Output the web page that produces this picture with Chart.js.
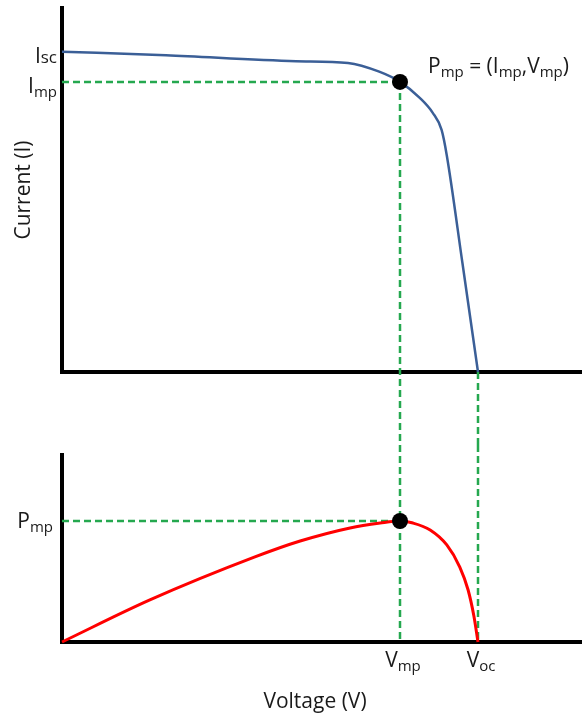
<!DOCTYPE html>
<html>
<head>
<meta charset="utf-8">
<script src="https://cdn.jsdelivr.net/npm/chart.js@4/dist/chart.umd.min.js"></script>
<style>
  body { margin: 0; background: #fff; }
  #wrap { position: relative; width: 582px; height: 719px; }
  canvas { position: absolute; left: 0; }
  #ivChart { top: 0; }
  #pvChart { top: 445px; }
</style>
</head>
<body>
<div id="wrap">
  <canvas id="ivChart" width="582" height="445"></canvas>
  <canvas id="pvChart" width="582" height="274"></canvas>
</div>
<script>
// axis ranges (relative units)
var vMax = 100;
var iMax = 100;
var pMax = 100;

// I-V curve
var ivVoltage = [0, 20, 45, 55, 61, 65, 68.8, 71.3, 73, 74, 77, 80];
var ivCurrent = [88, 87, 85.4, 84.9, 82.5, 79.7, 75.3, 71.2, 66.5, 59.5, 30, 0];

// P-V curve
var pvVoltage = [0, 16.9, 37.1, 45.8, 55.4, 61.2, 65, 67.5, 70.8, 74, 76.5, 78.1, 79.2, 80];
var pvPower = [0, 22.5, 45.5, 54, 61, 63.6, 64.7, 63.6, 59.9, 51.9, 40.1, 27.8, 14, 0];

// characteristic points
var vmp = 65, voc = 80;
var isc = 88, imp = 79.7;
var pmp = 64.7;

// tick labels (main letter + subscript)
var ivTickValues = [isc, imp];
var ivTickMain = ['I', 'I'];
var ivTickSub = ['sc', 'mp'];
var pvTickValues = [pmp];
var pvTickMain = ['P'];
var pvTickSub = ['mp'];
var xTickValues = [vmp, voc];
var xTickMain = ['V', 'V'];
var xTickSub = ['mp', 'oc'];

var FONT = '"Open Sans", Lato, sans-serif';
var TEXT = '#1a1a1a';
var GREEN = '#25a84f';
var BLUE = '#3b5f97';
var RED = '#ff0000';

function toXY(xs, ys) {
  return xs.map(function (x, i) { return {x: x, y: ys[i]}; });
}

// draw text segments, sub segments smaller and lowered
function drawRich(ctx, x, y, segs, align) {
  var total = 0;
  segs.forEach(function (s) {
    ctx.font = (s.size || 21) + 'px ' + FONT;
    s.w = ctx.measureText(s.t).width;
    total += s.w;
  });
  var cx = x;
  if (align == 'right') cx = x - total;
  if (align == 'center') cx = x - total / 2;
  ctx.textAlign = 'left';
  ctx.textBaseline = 'alphabetic';
  ctx.fillStyle = TEXT;
  segs.forEach(function (s) {
    ctx.font = (s.size || 21) + 'px ' + FONT;
    ctx.fillText(s.t, cx, y + (s.dy || 0));
    cx += s.w;
  });
}

function label(main, sub) {
  if (sub == 'sc') return [{t: main}, {t: sub, size: 17, dy: 0}];
  return [{t: main}, {t: sub, size: 15, dy: 4}];
}

function dashedV(ctx, x, y1, y2) {
  ctx.save();
  ctx.strokeStyle = GREEN;
  ctx.lineWidth = 2.5;
  ctx.setLineDash([7, 4]);
  ctx.beginPath();
  ctx.moveTo(x, y1);
  ctx.lineTo(x, y2);
  ctx.stroke();
  ctx.restore();
}

function axisOpts(max) {
  return {
    type: 'linear', min: 0, max: max,
    grid: {display: false, drawTicks: false},
    ticks: {display: false},
    border: {display: true, color: '#000', width: 4}
  };
}

var ivPlugin = {
  id: 'ivDecor',
  beforeDatasetsDraw: function (chart) {
    var ctx = chart.ctx, xs = chart.scales.x, ys = chart.scales.y;
    dashedV(ctx, xs.getPixelForValue(vmp), ys.getPixelForValue(imp), chart.height);
    dashedV(ctx, xs.getPixelForValue(voc), ys.getPixelForValue(0), chart.height);
  },
  afterDraw: function (chart) {
    var ctx = chart.ctx, xs = chart.scales.x, ys = chart.scales.y, a = chart.chartArea;
    for (var i = 0; i < ivTickValues.length; i++) {
      drawRich(ctx, a.left - 5, ys.getPixelForValue(ivTickValues[i]) + 11, label(ivTickMain[i], ivTickSub[i]), 'right');
    }
    // Pmp annotation
    drawRich(ctx, xs.getPixelForValue(vmp) + 28, ys.getPixelForValue(imp) - 9, [
      {t: 'P'}, {t: 'mp', size: 15, dy: 4}, {t: ' = ('}, {t: 'I'}, {t: 'mp', size: 15, dy: 4},
      {t: ','}, {t: 'V'}, {t: 'mp', size: 15, dy: 4}, {t: ')'}
    ], 'left');
    // y title
    ctx.save();
    ctx.translate(24, (a.top + a.bottom) / 2);
    ctx.rotate(-Math.PI / 2);
    ctx.font = '21px ' + FONT;
    ctx.fillStyle = TEXT;
    ctx.textAlign = 'center';
    ctx.textBaseline = 'middle';
    ctx.fillText('Current (I)', 0, 0);
    ctx.restore();
  }
};

var pvPlugin = {
  id: 'pvDecor',
  beforeDatasetsDraw: function (chart) {
    var ctx = chart.ctx, xs = chart.scales.x, ys = chart.scales.y;
    dashedV(ctx, xs.getPixelForValue(vmp), 0, ys.getPixelForValue(0));
    dashedV(ctx, xs.getPixelForValue(voc), 0, ys.getPixelForValue(0));
  },
  afterDraw: function (chart) {
    var ctx = chart.ctx, xs = chart.scales.x, ys = chart.scales.y, a = chart.chartArea;
    for (var i = 0; i < pvTickValues.length; i++) {
      drawRich(ctx, a.left - 9, ys.getPixelForValue(pvTickValues[i]) + 7, label(pvTickMain[i], pvTickSub[i]), 'right');
    }
    for (var j = 0; j < xTickValues.length; j++) {
      drawRich(ctx, xs.getPixelForValue(xTickValues[j]) + 3, a.bottom + 25, label(xTickMain[j], xTickSub[j]), 'center');
    }
    drawRich(ctx, 315, a.bottom + 66, [{t: 'Voltage (V)'}], 'center');
  }
};

var common = {
  responsive: false,
  animation: false,
  plugins: {legend: {display: false}, tooltip: {enabled: false}},
  elements: {point: {radius: 0}}
};

new Chart(document.getElementById('ivChart'), {
  type: 'line',
  data: {
    datasets: [
      {data: [{x: vmp, y: imp}], showLine: false, pointRadius: 8, pointBackgroundColor: '#000', pointBorderWidth: 0, clip: false},
      {data: toXY(ivVoltage, ivCurrent), borderColor: BLUE, borderWidth: 2.5, cubicInterpolationMode: 'monotone', clip: false},
      {data: [{x: 0, y: imp}, {x: vmp, y: imp}], borderColor: GREEN, borderWidth: 2.5, borderDash: [7, 4], clip: false}
    ]
  },
  options: Object.assign({}, common, {
    layout: {autoPadding: false, padding: {left: 62, top: 8, right: 0, bottom: 73}},
    scales: {x: axisOpts(vMax), y: axisOpts(iMax)}
  }),
  plugins: [ivPlugin]
});

new Chart(document.getElementById('pvChart'), {
  type: 'line',
  data: {
    datasets: [
      {data: [{x: vmp, y: pmp}], showLine: false, pointRadius: 8, pointBackgroundColor: '#000', pointBorderWidth: 0, clip: false},
      {data: toXY(pvVoltage, pvPower), borderColor: RED, borderWidth: 3, cubicInterpolationMode: 'monotone', clip: false},
      {data: [{x: 0, y: pmp}, {x: vmp, y: pmp}], borderColor: GREEN, borderWidth: 2.5, borderDash: [7, 4], clip: false}
    ]
  },
  options: Object.assign({}, common, {
    layout: {autoPadding: false, padding: {left: 62, top: 10, right: 0, bottom: 77}},
    scales: {x: axisOpts(vMax), y: axisOpts(pMax)}
  }),
  plugins: [pvPlugin]
});
</script>
</body>
</html>
